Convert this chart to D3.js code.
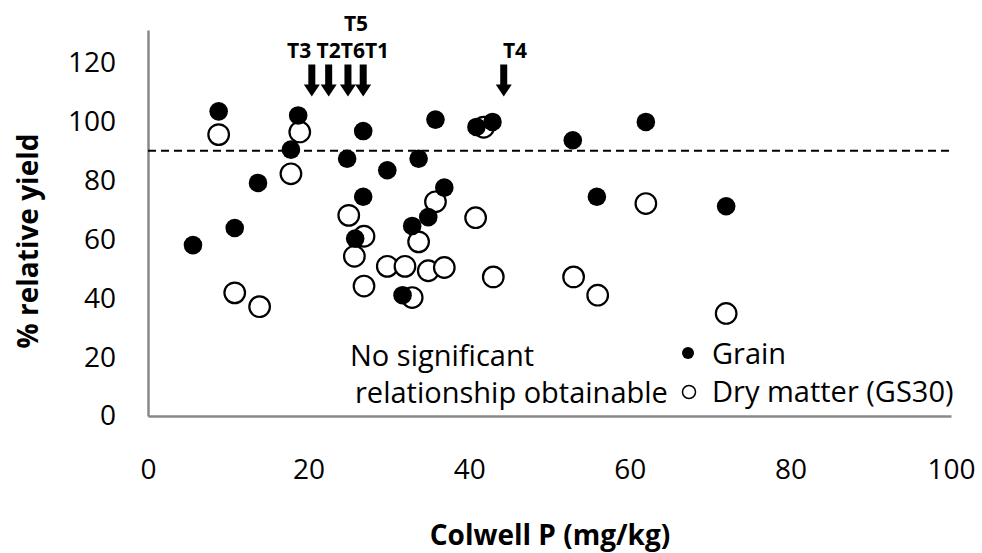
<!DOCTYPE html>
<html lang="en">
<head>
<meta charset="utf-8">
<title>Relative yield vs Colwell P</title>
<style>
  body { margin: 0; background: #fff; }
  svg text { font-family: "Open Sans", sans-serif; fill: #000; }
  .axis path { stroke: #888; stroke-width: 2.5px; }
  .axis text { font-size: 28px; font-family: "Open Sans", sans-serif; fill: #000; }
  .title { font-weight: bold; font-size: 28px; }
  .note { font-size: 29px; }
  .tlabel { font-weight: bold; font-size: 21px; }
  .grain { fill: #000; }
  .dm { fill: #fff; stroke: #000; stroke-width: 2.2px; }
  .threshold { stroke: #000; stroke-width: 2px; stroke-dasharray: 8,5; }
</style>
</head>
<body>
<script src="https://d3js.org/d3.v7.min.js"></script>
<script>

    // Grain relative yield (filled circles)
    var grainP     = [5.6, 8.8, 10.8, 13.7, 17.8, 18.7, 24.8, 25.8, 26.8, 26.8, 29.8, 31.7,
                      32.9, 33.7, 34.9, 35.8, 36.9, 40.9, 42.9, 52.9, 55.9, 62.0, 72.0];
    var grainYield = [58, 103.4, 63.8, 79.1, 90.4, 102, 87.3, 60.2, 96.7, 74.4, 83.4, 41,
                      64.5, 87.3, 67.5, 100.6, 77.5, 98.1, 99.8, 93.6, 74.4, 99.8, 71.2];

    // Dry matter (GS30) relative yield (open circles)
    var dmP     = [8.8, 10.8, 13.9, 17.8, 18.9, 25.0, 25.7, 26.9, 26.9, 29.8, 32.0, 32.9,
                   33.7, 34.9, 35.8, 36.9, 40.8, 41.8, 43.0, 53.0, 56.0, 62.0, 72.0];
    var dmYield = [95.5, 41.8, 37.1, 82.2, 96.4, 68.1, 54.2, 61, 44.1, 50.8, 50.8, 40.2,
                   59.1, 49.3, 72.7, 50.4, 67.3, 98, 47.2, 47.2, 41, 72.1, 34.8];

    var xTicks = [0, 20, 40, 60, 80, 100];
    var yTicks = [0, 20, 40, 60, 80, 100, 120];
    var threshold = 90;

    // treatment arrows (Colwell P of each treatment)
    var arrowP = [20.4, 22.5, 24.9, 26.8, 44.3];

    // ************** Build the chart *****************
    var width = 982, height = 553;

    var svg = d3.select("body").append("svg")
            .attr("width", width)
            .attr("height", height);

    var x = d3.scaleLinear().domain([0, 100]).range([148, 951]);
    var y = d3.scaleLinear().domain([0, 131]).range([416, 30]);

    // y axis
    svg.append("g")
            .attr("class", "axis")
            .attr("transform", "translate(" + x(0) + ",0)")
            .call(d3.axisLeft(y).tickValues(yTicks).tickSize(0).tickPadding(32));

    // x axis
    svg.append("g")
            .attr("class", "axis")
            .attr("transform", "translate(0," + y(0) + ")")
            .call(d3.axisBottom(x).tickValues(xTicks).tickSize(0).tickPadding(43));

    // dashed 90% line
    svg.append("line")
            .attr("class", "threshold")
            .attr("x1", x(0)).attr("x2", x(100))
            .attr("y1", y(threshold)).attr("y2", y(threshold));

    // dry matter first, grain drawn on top
    svg.selectAll("circle.dm")
            .data(dmP)
            .enter().append("circle")
            .attr("class", "dm")
            .attr("cx", function(d) { return x(d); })
            .attr("cy", function(d, i) { return y(dmYield[i]); })
            .attr("r", 10.3);

    svg.selectAll("circle.grain")
            .data(grainP)
            .enter().append("circle")
            .attr("class", "grain")
            .attr("cx", function(d) { return x(d); })
            .attr("cy", function(d, i) { return y(grainYield[i]); })
            .attr("r", 9.3);

    // arrows
    var tipY = y(108.4);
    svg.selectAll("path.arrow")
            .data(arrowP)
            .enter().append("path")
            .attr("class", "arrow")
            .attr("fill", "#000")
            .attr("d", function(d) {
                var cx = x(d);
                return "M" + (cx - 3.5) + "," + (tipY - 32)
                     + "L" + (cx + 3.5) + "," + (tipY - 32)
                     + "L" + (cx + 3.5) + "," + (tipY - 12)
                     + "L" + (cx + 8) + "," + (tipY - 12)
                     + "L" + cx + "," + tipY
                     + "L" + (cx - 8) + "," + (tipY - 12)
                     + "L" + (cx - 3.5) + "," + (tipY - 12) + "Z";
            });

    svg.append("text").attr("class", "tlabel")
            .attr("x", 287).attr("y", 58)
            .text("T3 T2T6T1");
    svg.append("text").attr("class", "tlabel")
            .attr("x", 515).attr("y", 58).attr("text-anchor", "middle")
            .text("T4");
    svg.append("text").attr("class", "tlabel")
            .attr("x", 356).attr("y", 31).attr("text-anchor", "middle")
            .text("T5");

    // note
    svg.append("text").attr("class", "note")
            .attr("x", 350).attr("y", 366)
            .text("No significant");
    svg.append("text").attr("class", "note")
            .attr("x", 355).attr("y", 403)
            .text("relationship obtainable");

    // legend
    svg.append("circle").attr("class", "grain")
            .attr("cx", 688).attr("cy", 353).attr("r", 6);
    svg.append("text").attr("class", "note")
            .attr("x", 712).attr("y", 364)
            .text("Grain");
    svg.append("circle")
            .attr("cx", 689).attr("cy", 392).attr("r", 6.5)
            .attr("fill", "#fff").attr("stroke", "#000").attr("stroke-width", 1.5);
    svg.append("text").attr("class", "note")
            .attr("x", 712).attr("y", 402)
            .text("Dry matter (GS30)");

    // axis titles
    svg.append("text").attr("class", "title")
            .attr("x", 550).attr("y", 545)
            .attr("text-anchor", "middle")
            .text("Colwell P (mg/kg)");
    svg.append("text").attr("class", "title")
            .attr("transform", "translate(38,241) rotate(-90)")
            .attr("text-anchor", "middle")
            .text("% relative yield");

</script>
</body>
</html>
